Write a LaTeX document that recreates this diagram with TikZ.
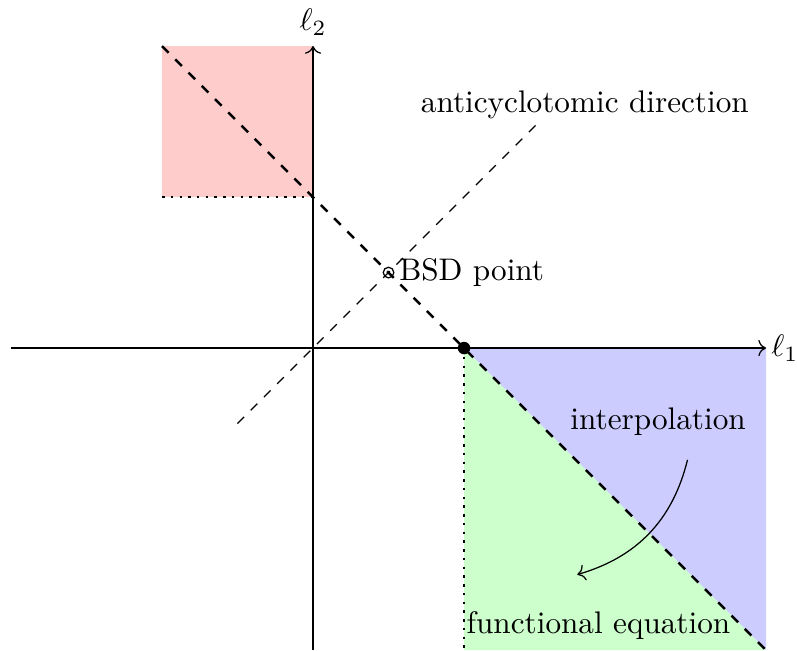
\documentclass[tikz,border=0pt]{standalone}
\usepackage{amsmath,amssymb}
\usepackage{xcolor}
\usepackage{tikz}
\usetikzlibrary{arrows.meta,positioning,calc}

\begin{document}
\begin{tikzpicture}[
  x=1.7cm,y=1.7cm,
  axis/.style={->},
  wall/.style={thick,dashed},
  rim/.style={thick,dotted},
  pointmark/.style={circle,draw,minimum size=3.4pt,inner sep=0pt}
]
\useasboundingbox (-2.073,-2.0) rectangle (3.205,2.305);
% axis ends and corners
\coordinate (xmin) at (-2,0);
\coordinate (xmax) at (3,0);
\coordinate (ymin) at (0,-2);
\coordinate (ymax) at (0,2);
\coordinate (crit) at (1,0);
% regions
\fill[red!20] (-1,1) rectangle (0,2);
\fill[blue!20] (crit) -- (3,0) -- (3,-2) -- cycle;
\fill[green!20] (crit) -- (1,-2) -- (3,-2) -- cycle;
\draw[rim] (-1,1) -- (0,1);
\draw[rim] (crit) -- (1,-2);
% axes
\draw[axis] (xmin) -- (xmax) node[right,inner sep=1.5pt] (lone) {$\ell_1$};
\draw[axis] (ymin) -- (ymax) node[above] (ltwo) {$\ell_2$};
% lines
\coordinate (antia) at (-0.5,-0.5);
\coordinate (antib) at (1.5,1.5);
\draw[dashed] (antia) -- (antib);
\node (anti) at (1.8,1.61) {anticyclotomic direction};
\draw[wall] (-1,2) -- (3,-2);
\fill (crit) circle (2pt);
\node[pointmark] (bsd) at (0.5,0.5) {};
\node[right=-2pt of bsd] (bsdlabel) {BSD point};
% labels
\node (interp) at (2.285,-0.49) {interpolation};
\coordinate (arra) at (2.48,-0.74);
\coordinate (arrb) at (1.75,-1.50);
\draw[->] (arra) to[bend left] (arrb);
\node (feq) at (1.89,-1.84) {functional equation};
\end{tikzpicture}
\end{document}
